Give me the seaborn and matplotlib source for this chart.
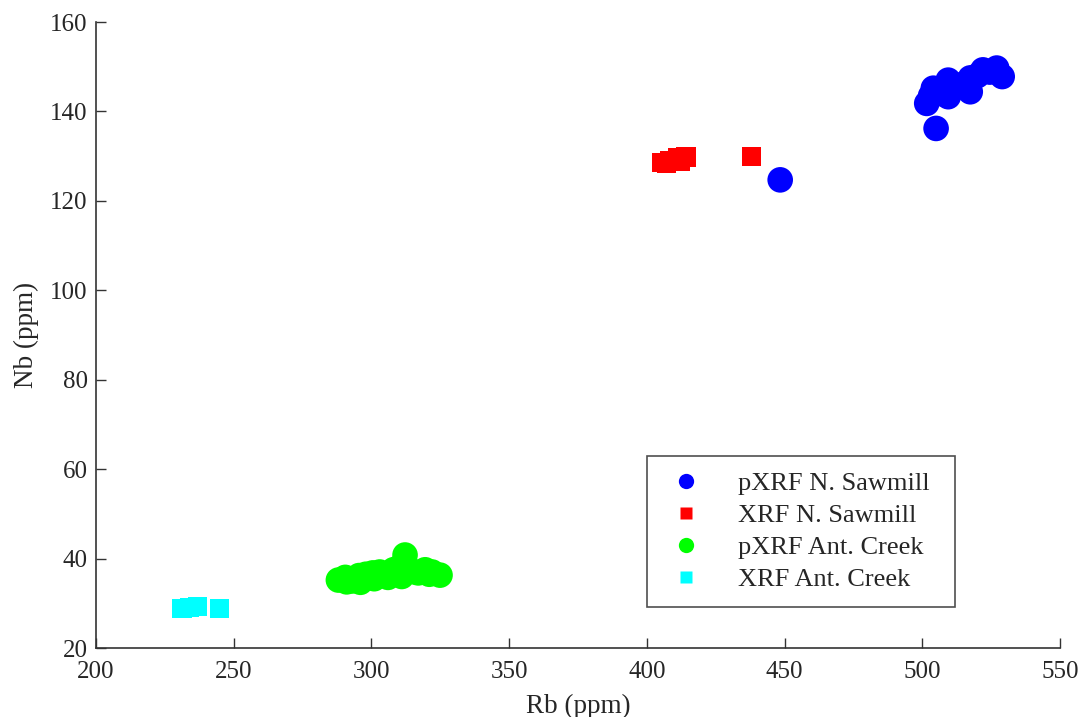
import numpy as np
import pandas as pd
import matplotlib
matplotlib.use("Agg")
import matplotlib.pyplot as plt
import seaborn as sns
from matplotlib.lines import Line2D

# ---- data ----
pxrf_ns_rb = [501.6, 505.0, 504.0, 509.4, 509.4, 517.4, 517.4, 522.0, 527.0, 529.0, 448.4,
              503.0, 512.0, 506.5, 514.0, 520.0, 524.5]
pxrf_ns_nb = [141.8, 136.2, 145.2, 147.0, 143.3, 144.4, 147.5, 149.3, 149.7, 147.8, 124.7,
              143.5, 146.0, 144.0, 145.5, 148.0, 148.8]

xrf_ns_rb = [405.2, 408.4, 411.3, 414.2, 437.9, 412.0, 407.0]
xrf_ns_nb = [128.5, 129.1, 129.6, 129.8, 130.0, 128.8, 128.4]

pxrf_ac_rb = [288.0, 290.5, 293.0, 295.5, 298.0, 300.5, 303.0, 305.5, 308.0, 310.0, 312.2,
              314.5, 317.0, 319.5, 322.0, 324.9, 291.0, 296.0, 301.0, 306.0, 311.0, 316.0, 321.0]
pxrf_ac_nb = [35.2, 35.8, 35.0, 36.2, 36.5, 36.8, 37.0, 36.5, 37.5, 38.0, 40.8,
              37.2, 36.8, 37.5, 37.0, 36.3, 34.8, 34.7, 35.5, 35.8, 36.0, 37.0, 36.5]

xrf_ac_rb = [231.2, 234.1, 237.0, 244.7]
xrf_ac_nb = [28.9, 29.1, 29.2, 28.9]

labels = ["pXRF N. Sawmill", "XRF N. Sawmill", "pXRF Ant. Creek", "XRF Ant. Creek"]
colors = ["#0000ff", "#ff0000", "#00ff00", "#00ffff"]
markers = ["o", "s", "o", "s"]

xticks = [200, 250, 300, 350, 400, 450, 500, 550]
yticks = [20, 40, 60, 80, 100, 120, 140, 160]

sns.set_theme(style="white")
plt.rcParams["font.family"] = ["Liberation Serif", "DejaVu Serif"]

fig = plt.figure(figsize=(10.86, 7.17), dpi=100)
ax = fig.add_axes([0.0884, 0.0962, 0.8877, 0.8731])

groups = [(pxrf_ns_rb, pxrf_ns_nb), (xrf_ns_rb, xrf_ns_nb),
          (pxrf_ac_rb, pxrf_ac_nb), (xrf_ac_rb, xrf_ac_nb)]
sizes = [340, 190, 340, 190]
for (xs, ys), lab, c, m, s in zip(groups, labels, colors, markers, sizes):
    df = pd.DataFrame({"Rb": xs, "Nb": ys})
    sns.scatterplot(data=df, x="Rb", y="Nb", ax=ax, color=c, marker=m, s=s,
                    linewidth=0, edgecolor="none", legend=False)

ax.set_xlim(200, 550)
ax.set_ylim(20, 160)
ax.set_xticks(xticks)
ax.set_yticks(yticks)
ax.set_xlabel("Rb (ppm)", fontsize=19.5, labelpad=8)
ax.set_ylabel("Nb (ppm)", fontsize=19.5, labelpad=8)
ax.tick_params(axis="both", direction="in", length=7, width=1.0, color="#333333",
               labelsize=18, pad=6, bottom=True, left=True)
ax.tick_params(axis="x", pad=9)
for sp in ["top", "right"]:
    ax.spines[sp].set_visible(False)
for sp in ["left", "bottom"]:
    ax.spines[sp].set_color("#333333")
    ax.spines[sp].set_linewidth(1.2)

handles = [Line2D([0], [0], marker=m, color="none", markerfacecolor=c, markeredgecolor="none",
                  markersize=(11 if m == "o" else 9), label=l)
           for l, c, m in zip(labels, colors, markers)]
leg = ax.legend(handles=handles, loc="upper left", bbox_to_anchor=(0.5716, 0.307, 0.3194, 0.0),
                mode="expand", frameon=True, fancybox=False, fontsize=19,
                handlelength=1.74, handletextpad=1.1, borderpad=0.6, labelspacing=0.32,
                borderaxespad=0)
leg.get_frame().set_edgecolor("#222222")
leg.get_frame().set_linewidth(1.2)

fig.savefig("out.png", dpi=100)
